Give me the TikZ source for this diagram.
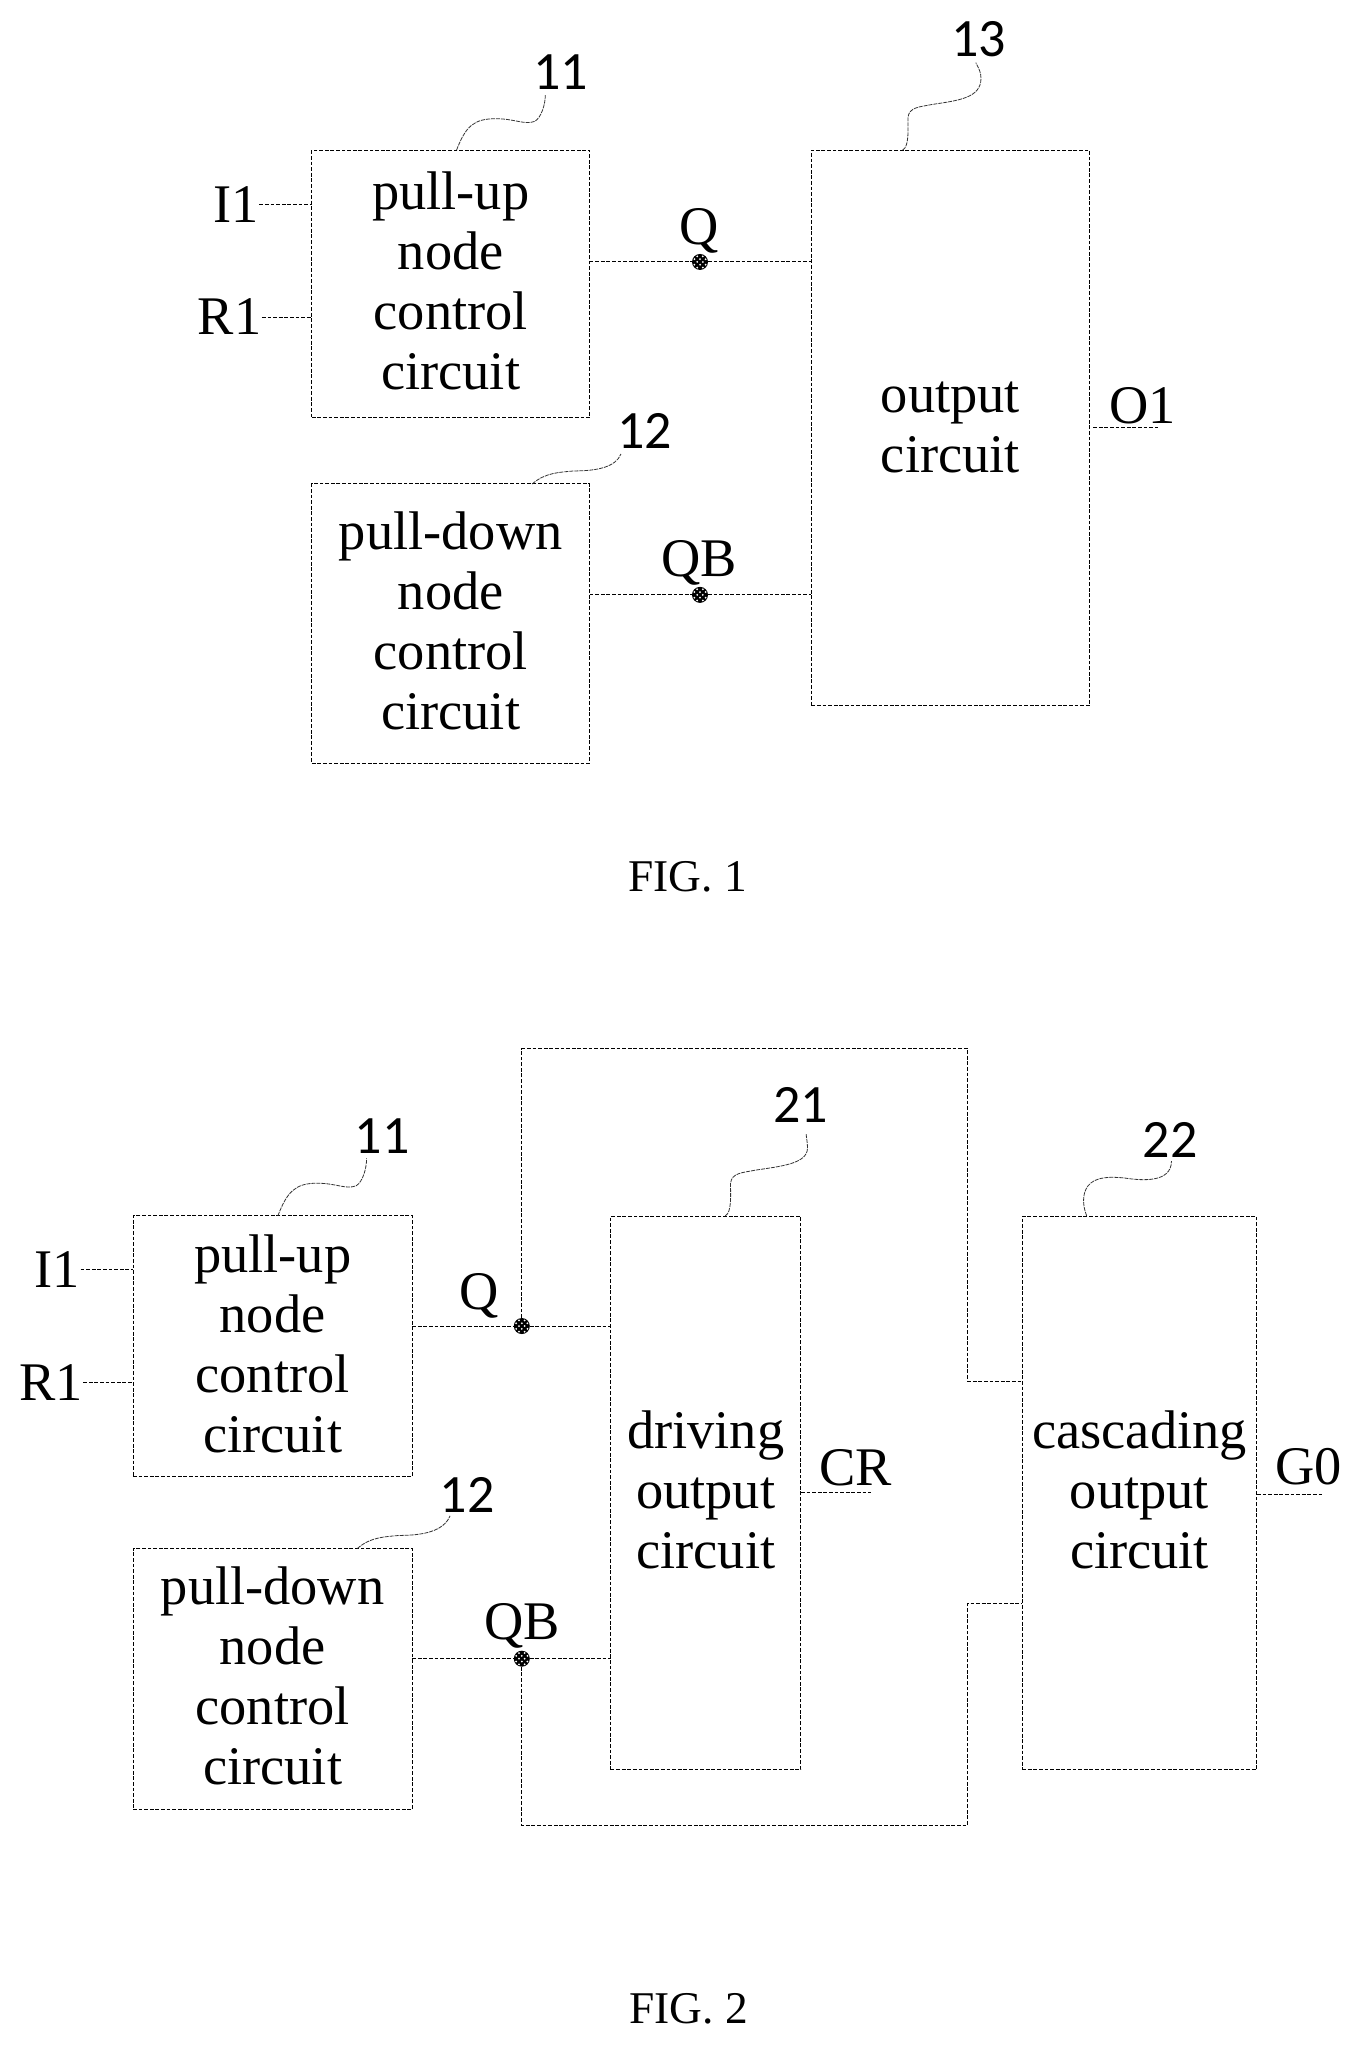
\documentclass[tikz,border=0pt]{standalone}
\usepackage{fontspec}
\setmainfont{Liberation Serif}
\newfontfamily\numfont{Carlito}
\newcommand\lifttext{\rule[-3pt]{0pt}{3pt}}
\tikzset{
  x=0.65225pt,y=-0.65225pt,
  wire/.style={draw=black,line width=0.5pt,dash pattern=on 1.9pt off 0.9pt},
  lead/.style={draw=black!80,line width=0.4pt,dash pattern=on 2pt off 0.5pt},
  cbox/.style 2 args={wire,rectangle,inner sep=0pt,outer sep=0pt,align=center,
    font=\fontsize{27.2}{30}\selectfont,
    minimum width={#1*0.65225pt},minimum height={#2*0.65225pt}},
  sig/.style={inner sep=0pt,outer sep=0.3pt,font=\fontsize{27.2}{30}\selectfont},
  refno/.style={inner sep=0pt,font=\numfont\fontsize{27}{30}\selectfont},
  figcap/.style={inner sep=0pt,font=\fontsize{22.7}{25}\selectfont},
  junction/.style={circle,inner sep=0pt,outer sep=0pt,minimum size=8pt,fill=black,
    path picture={
      \foreach \a/\b in {-1.4/0,1.4/0,0/-1.4,0/1.4,-2.8/-1.4,2.8/-1.4,-2.8/1.4,2.8/1.4,-1.4/-2.8,1.4/-2.8,-1.4/2.8,1.4/2.8}
        {\fill[white] ([xshift=\a pt,yshift=\b pt]path picture bounding box.center) circle (0.5pt);}
    }},
}
\begin{document}
\begin{tikzpicture}
\useasboundingbox[fill=white] (0,0) rectangle (1041.8,1568.4);

% ---------- FIG. 1 ----------
\node[cbox={213}{205}] (a1) at (345.5,217.7) {pull-up\\node\\control\\circuit\lifttext};
\node[cbox={213}{214}] (b1) at (345.5,478) {pull-down\\node\\control\\circuit\lifttext};
\node[cbox={213}{426}] (c1) at (728.5,328) {output\\circuit};

\node[sig] (i1) at (181,157) {I1};
\node[sig] (r1) at (176,243) {R1};
\draw[wire] (i1.east) -- (a1.west |- i1.east);
\draw[wire] (r1.east) -- (a1.west |- r1.east);

\node[junction] (q1) at (536.6,200.8) {};
\node[junction] (qb1) at (536.6,456) {};
\node[sig] (qt1) at (536,177) {Q};
\node[sig] (qbt1) at (536,431.5) {QB};
\draw[wire] (a1.east |- q1) -- (q1);
\draw[wire] (q1) -- (c1.west |- q1);
\draw[wire] (b1.east |- qb1) -- (qb1);
\draw[wire] (qb1) -- (c1.west |- qb1);

\node[sig] (o1) at (876,311) {O1};
\coordinate (o1e) at (888,328);
\draw[wire] ([xshift=2pt]c1.east |- o1e) -- (o1e);

\node[refno] (n11) at (430,55) {11};
\node[refno] (n12) at (494,330) {12};
\node[refno] (n13) at (750,30) {13};
\coordinate (l11) at (350,115);
\coordinate (l12) at (408,371);
\coordinate (l13) at (692,115);
\coordinate (l11t) at (418,73);
\coordinate (l12t) at (476,348);
\coordinate (l13t) at (748,48);
\draw[lead] (l11) .. controls (357,97) and (363,91) .. (380,91)
  .. controls (395,91) and (402,96) .. (410,93) .. controls (415,90) and (418,80) .. (l11t);
\draw[lead] (l12) .. controls (418,362) and (430,362) .. (440,361)
  .. controls (458,361) and (472,358) .. (l12t);
\draw[lead] (l13) .. controls (697,112) and (696,100) .. (696,90)
  .. controls (697,82) and (705,82) .. (715,80) .. controls (735,77) and (752,75) .. (752,60) .. controls (752,55) and (750,52) .. (l13t);

\node[figcap] (f1) at (527,672) {FIG. 1};

% ---------- FIG. 2 ----------
\node[cbox={214}{200}] (a2) at (209,1032) {pull-up\\node\\control\\circuit\lifttext};
\node[cbox={214}{200}] (b2) at (209,1287) {pull-down\\node\\control\\circuit\lifttext};
\node[cbox={146}{424}] (d2) at (541,1144.5) {driving\\output\\circuit\lifttext};
\node[cbox={180}{424}] (e2) at (873.5,1144.5) {cascading\\output\\circuit\lifttext};

\node[sig] (i2) at (44,973) {I1};
\node[sig] (r2) at (39,1060) {R1};
\draw[wire] (i2.east) -- (a2.west |- i2.east);
\draw[wire] (r2.east) -- (a2.west |- r2.east);

\node[junction] (q2) at (400,1016.5) {};
\node[junction] (qb2) at (400,1271.5) {};
\node[sig] (qt2) at (367,993) {Q};
\node[sig] (qbt2) at (400,1246.5) {QB};
\draw[wire] (a2.east |- q2) -- (q2);
\draw[wire] (q2) -- (d2.west |- q2);
\draw[wire] (b2.east |- qb2) -- (qb2);
\draw[wire] (qb2) -- (d2.west |- qb2);

\coordinate (tr) at (742,804);
\coordinate (tj) at (742,1059);
\coordinate (br) at (742,1399);
\coordinate (bj) at (742,1229);
\draw[wire] (q2) |- (tr) -- (tj) -- (e2.west |- tj);
\draw[wire] (qb2) |- (br) -- (bj) -- (e2.west |- bj);

\node[sig] (cr) at (656,1125) {CR};
\coordinate (cre) at (668,1144);
\draw[wire] (d2.east |- cre) -- (cre);
\node[sig] (g0) at (1003,1124) {G0};
\coordinate (g0e) at (1015,1146);
\draw[wire] (e2.east |- g0e) -- (g0e);

\node[refno] (m11) at (293,871) {11};
\node[refno] (m12) at (358,1146) {12};
\node[refno] (m21) at (614,847) {21};
\node[refno] (m22) at (897,874) {22};
\coordinate (k11) at (213,932);
\coordinate (k12) at (274,1187);
\coordinate (k21) at (556,932);
\coordinate (k22) at (833,932);
\coordinate (k11t) at (281,888);
\coordinate (k12t) at (345,1162);
\coordinate (k21t) at (618,869);
\coordinate (k22t) at (898,890);
\draw[lead] (k11) .. controls (220,914) and (226,907) .. (243,907)
  .. controls (258,907) and (265,912) .. (273,909) .. controls (278,906) and (281,896) .. (k11t);
\draw[lead] (k12) .. controls (284,1178) and (296,1178) .. (306,1177)
  .. controls (324,1177) and (340,1174) .. (k12t);
\draw[lead] (k21) .. controls (561,929) and (560,917) .. (560,907)
  .. controls (561,899) and (569,899) .. (579,897) .. controls (599,894) and (619,892) .. (619,880) .. controls (619,875) and (618,872) .. (k21t);
\draw[lead] (k22) .. controls (829,922) and (830,912) .. (836,907)
  .. controls (842,902) and (852,902) .. (862,903) .. controls (875,905) and (898,907) .. (k22t);

\node[figcap] (f2) at (528,1540) {FIG. 2};
\end{tikzpicture}
\end{document}
